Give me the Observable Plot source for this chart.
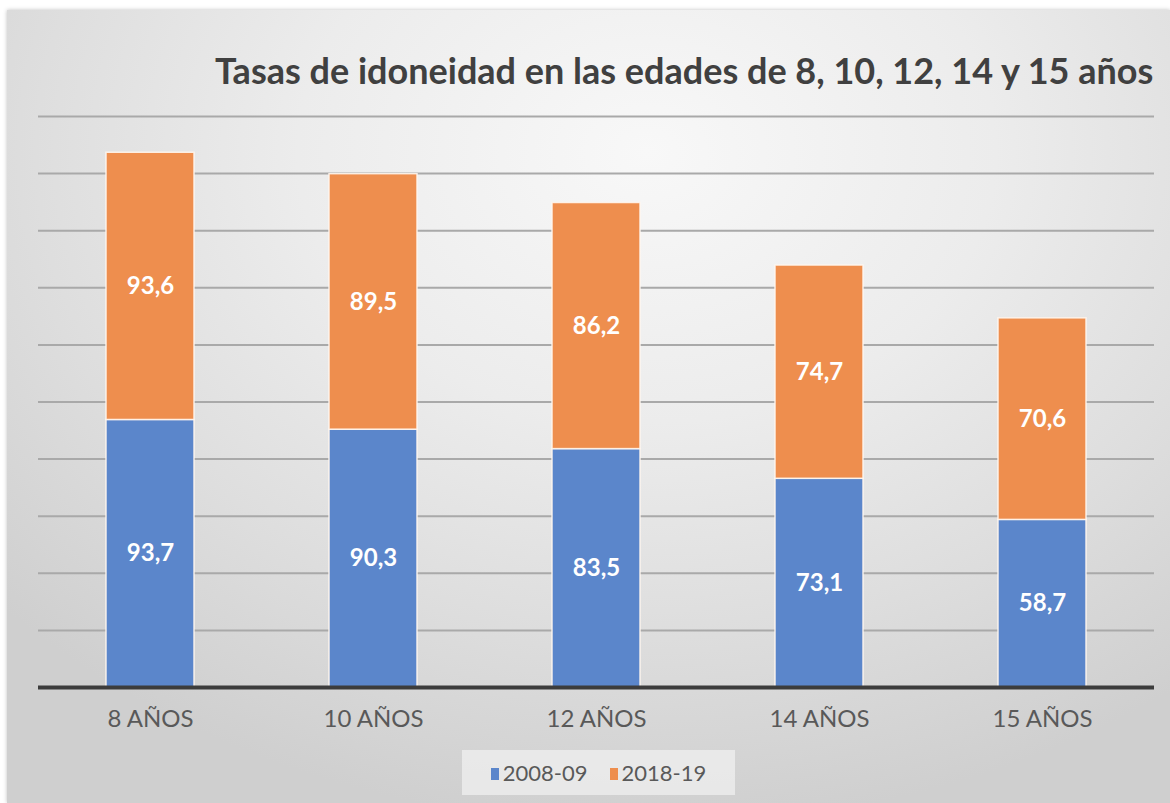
<!DOCTYPE html>
<html>
<head>
<meta charset="utf-8">
<script src="https://cdn.jsdelivr.net/npm/d3@7"></script>
<script src="https://cdn.jsdelivr.net/npm/@observablehq/plot@0.6"></script>
<style>
  html, body { margin: 0; padding: 0; background: #fff; }
  body { width: 1170px; height: 803px; position: relative; overflow: hidden; }
  #frame {
    position: absolute; left: 7px; top: 10px; width: 1163px; height: 793px;
    background: radial-gradient(ellipse 75% 85% at 55% 18%, #f8f8f8 0%, #ececec 40%, #dedede 70%, #cfcfcf 100%);
    box-shadow: 0 0 4px rgba(0,0,0,0.25);
  }
  #title {
    position: absolute; left: 215px; top: 52px; white-space: nowrap;
    font-family: "Liberation Sans Narrow", "Lato", sans-serif; font-weight: bold;
    font-size: 36px; color: #404040; line-height: 1;
  }
  #chart { position: absolute; left: 0; top: 0; }
  #legend {
    position: absolute; left: 462px; top: 750px; width: 273px; height: 45px;
    background: rgba(236,236,236,0.85);
    display: flex; align-items: center; justify-content: center; gap: 22px;
    font-family: "Liberation Sans Narrow", "Lato", sans-serif; font-size: 22px; color: #595959;
  }
  #legend span.sw { display: inline-block; width: 8px; height: 12px; margin-right: 4px; vertical-align: middle; position: relative; top: -1px; }
</style>
</head>
<body>
<div id="frame"></div>
<div id="chart"></div>
<div id="title">Tasas de idoneidad en las edades de 8, 10, 12, 14 y 15 años</div>
<div id="legend"></div>
<script>
const ages = ["8 AÑOS", "10 AÑOS", "12 AÑOS", "14 AÑOS", "15 AÑOS"];
const series = ["2008-09", "2018-19"];
const values2008 = [93.7, 90.3, 83.5, 73.1, 58.7];
const values2018 = [93.6, 89.5, 86.2, 74.7, 70.6];
const gridTicks = [20, 40, 60, 80, 100, 120, 140, 160, 180, 200];
const colors = ["#5b86cb", "#ee8e4e"];

const rows = [];
ages.forEach((a, i) => rows.push({age: a, series: series[0], value: values2008[i]}));
ages.forEach((a, i) => rows.push({age: a, series: series[1], value: values2018[i]}));
const fmt = v => v.toFixed(1).replace(".", ",");

const chart = Plot.plot({
  width: 1170,
  height: 740,
  marginLeft: 38,
  marginRight: 16,
  marginTop: 116,
  marginBottom: 53,
  style: {background: "transparent", fontFamily: "'Liberation Sans Narrow', Lato, sans-serif"},
  x: {domain: ages, paddingInner: 0.605, paddingOuter: 0.3025, label: null},
  y: {domain: [0, 200], axis: null},
  color: {domain: series, range: colors},
  marks: [
    Plot.ruleY(gridTicks, {stroke: "#a9a9a9", strokeWidth: 2}),
    Plot.barY(rows, Plot.stackY({x: "age", y: "value", fill: "series", stroke: "#fff6ee", strokeWidth: 1.5, strokeOpacity: 0.9})),
    Plot.text(rows, Plot.stackY({x: "age", y: "value", text: d => fmt(d.value), fill: "white", fontWeight: "bold", fontSize: 24})),
    Plot.ruleY([0], {stroke: "#3c3c3c", strokeWidth: 4}),
    Plot.axisX({tickSize: 0, tickPadding: 22, fontSize: 24, fill: "#595959", label: null})
  ]
});
document.getElementById("chart").appendChild(chart);

const legend = document.getElementById("legend");
series.forEach((s, i) => {
  const item = document.createElement("div");
  item.innerHTML = `<span class="sw" style="background:${colors[i]}"></span>${s}`;
  legend.appendChild(item);
});
</script>
</body>
</html>
